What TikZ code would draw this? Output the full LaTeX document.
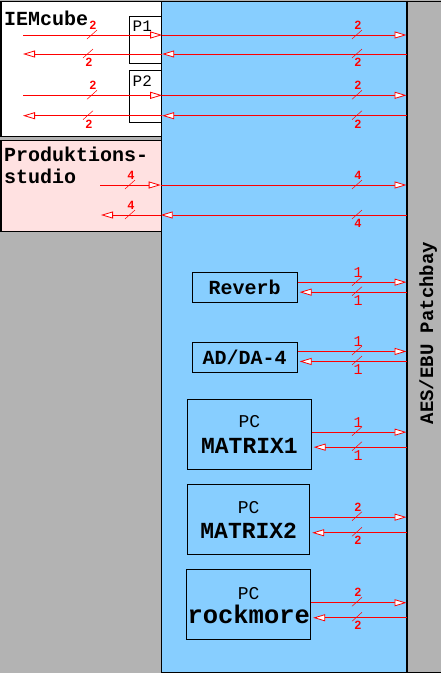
\documentclass[tikz,border=0pt]{standalone}
\usepackage{fontspec}
\setmainfont{Liberation Serif}
\newfontfamily\cour{Liberation Mono}
\newfontfamily\hsans{Liberation Sans}
\usetikzlibrary{arrows.meta,calc}
\definecolor{bgblue}{HTML}{87CEFF}
\definecolor{bggray}{HTML}{B3B3B3}
\definecolor{bgpink}{HTML}{FFE1E1}
\definecolor{sigred}{HTML}{FF0000}
\newcommand\onefont{\cour\mdseries\fontsize{15}{15}\selectfont}
\begin{document}
\begin{tikzpicture}[x=1pt,y=-1pt,
  sig/.style={draw=sigred, line width=0.8pt, -{Triangle[length=12pt,width=7pt,fill=white,line width=0.8pt]}},
  box/.style={draw=black, line width=0.9pt, inner sep=0pt, anchor=north west},
  region/.style={draw=black, line width=1.1pt, inner sep=0pt, anchor=north west},
  devname/.style={font=\cour\bfseries\fontsize{20}{20}\selectfont, text depth=0pt},
  pcname/.style={font=\cour\bfseries\fontsize{23}{23}\selectfont, anchor=base, inner sep=0pt},
  pclabel/.style={font=\cour\fontsize{18}{18}\selectfont, anchor=base, inner sep=0pt},
  plabel/.style={font=\cour\fontsize{16}{16}\selectfont, anchor=base west, inner sep=0pt},
  title/.style={font=\cour\bfseries\fontsize{20}{20}\selectfont, anchor=base west, inner sep=0pt},
  numlbl/.style={text=sigred, font=\hsans\bfseries\fontsize{12}{12}\selectfont, inner sep=0pt},
  pics/busup/.style={code={\draw[sigred,line width=0.5pt] (-5,4) -- (5,-5); \node[numlbl] (-n) at (1,-9.5) {#1};}},
  pics/busdn/.style={code={\draw[sigred,line width=0.5pt] (-5,4) -- (5,-5); \node[numlbl] (-n) at (1,8.5) {#1};}}
]
\useasboundingbox (0,0) rectangle (441,673);
\fill[bggray] (0,0) rectangle (441,673);

% regions
\node[region, fill=bgblue, minimum width=245.8pt, minimum height=671.5pt] (hub) at (160.7,0.5) {};
\node[region, fill=bggray, minimum width=36pt, minimum height=671.5pt] (pb) at (406.5,0.5) {};
\draw[line width=2pt] (pb.north west) -- (pb.south west);
\node[region, fill=white, minimum width=160.2pt, minimum height=135pt] (iem) at (0.5,0.5) {};
\node[region, fill=bgpink, minimum width=160.2pt, minimum height=91.5pt] (studio) at (0.5,139.5) {};

% texts of regions
\node[title] (iemt) at (4,25) {IEMcube};
\node[title] (stt1) at (4,161.7) {Produktions-};
\node[title] (stt2) at (4,183.3) {studio};
\node[font=\cour\bfseries\fontsize{19}{19}\selectfont, rotate=90, anchor=base, inner sep=0pt] (pbt) at (433,333) {AES/EBU Patchbay};

% ports
\node[box, minimum width=32pt, minimum height=47.6pt] (p1) at (129.3,15.7) {};
\node[box, minimum width=32pt, minimum height=52.3pt] (p2) at (129.3,70) {};
\node[plabel] (p1t) at (132.5,31.7) {P1};
\node[plabel] (p2t) at (132.5,86.7) {P2};

% devices
\node[box, devname, minimum width=105pt, minimum height=30pt] (rev) at (191.7,271.7) {Reverb};
\node[box, devname, minimum width=105pt, minimum height=30pt] (ada) at (191.7,341.7) {AD/DA-4};
\node[box, minimum width=123.4pt, minimum height=70pt] (m1) at (187.3,399.3) {};
\node[box, minimum width=122pt, minimum height=70pt] (m2) at (187.3,484.3) {};
\node[box, minimum width=124pt, minimum height=70pt] (rock) at (186.3,569.3) {};
\node[pclabel] (m1pc) at ([yshift=7pt]m1.center) {PC};
\node[pcname] (m1n) at ([yshift=-19pt]m1.center) {MATRIX1};
\node[pclabel] (m2pc) at ([yshift=6.5pt]m2.center) {PC};
\node[pcname] (m2n) at ([yshift=-19pt]m2.center) {MATRIX2};
\node[pclabel] (rpc) at ([yshift=5.5pt]rock.center) {PC};
\node[pcname, font=\cour\bfseries\fontsize{25.5}{25.5}\selectfont] (rn) at ([yshift=-18.5pt]rock.center) {rockmore};

% IEMcube connections
\coordinate (i1) at (23,35);
\coordinate (i2) at (23,54);
\coordinate (i3) at (23,95.3);
\coordinate (i4) at (23,115.7);
\draw[sig] (i1) -- (i1 -| p1.east);
\draw[sig] (i1 -| p1.east) -- (i1 -| pb.west);
\draw[sig] (i2 -| pb.west) -- (i2 -| p1.east);
\draw[sig] (i2 -| p1.east) -- (i2);
\draw[sig] (i3) -- (i3 -| p2.east);
\draw[sig] (i3 -| p2.east) -- (i3 -| pb.west);
\draw[sig] (i4 -| pb.west) -- (i4 -| p2.east);
\draw[sig] (i4 -| p2.east) -- (i4);
\pic (b1) at (92,35) {busup=2};
\pic (b2) at (88,54) {busdn=2};
\pic (b3) at (92,95.3) {busup=2};
\pic (b4) at (88,115.7) {busdn=2};
\pic (b5) at (357,35) {busup=2};
\pic (b6) at (357,54) {busdn=2};
\pic (b7) at (357,95.3) {busup=2};
\pic (b8) at (357,115.7) {busdn=2};

% Studio connections
\coordinate (s1) at (100,185);
\coordinate (s2) at (101,215);
\draw[sig] (s1) -- (s1 -| hub.west);
\draw[sig] (s1 -| hub.west) -- (s1 -| pb.west);
\draw[sig] (s2 -| pb.west) -- (s2 -| hub.west);
\draw[sig] (s2 -| hub.west) -- (s2);
\pic (c1) at (130,185) {busup=4};
\pic (c2) at (130,215) {busup=4};
\pic (c3) at (357,185) {busup=4};
\pic (c4) at (357,215) {busdn=4};

% device connections
\coordinate (ro) at ([yshift=5pt]rev.east);
\coordinate (ri) at ([yshift=-5pt]rev.east);
\coordinate (ao) at ([yshift=5.7pt]ada.east);
\coordinate (ai) at ([yshift=-4.3pt]ada.east);
\coordinate (m1o) at ([yshift=2.6pt]m1.east);
\coordinate (m1i) at ([yshift=-12.4pt]m1.east);
\coordinate (m2o) at ([yshift=2.6pt]m2.east);
\coordinate (m2i) at ([yshift=-13pt]m2.east);
\coordinate (ko) at ([yshift=2pt]rock.east);
\coordinate (ki) at ([yshift=-13pt]rock.east);
\foreach \o/\i in {ro/ri, ao/ai, m1o/m1i, m2o/m2i, ko/ki}{
  \draw[sig] (\o) -- (\o -| pb.west);
  \draw[sig] (\i -| pb.west) -- ([xshift=2pt]\i);
}
\pic (d1) at (357,281.7) {busup={\onefont 1}};
\pic (d2) at (357,291.7) {busdn={\onefont 1}};
\pic (d3) at (357,351) {busup={\onefont 1}};
\pic (d4) at (357,361) {busdn={\onefont 1}};
\pic (d5) at (357,431.7) {busup={\onefont 1}};
\pic (d6) at (357,446.7) {busdn={\onefont 1}};
\pic (d7) at (357,516.7) {busup=2};
\pic (d8) at (357,532.3) {busdn=2};
\pic (d9) at (357,602.3) {busup=2};
\pic (d10) at (357,617.3) {busdn=2};
\end{tikzpicture}
\end{document}
